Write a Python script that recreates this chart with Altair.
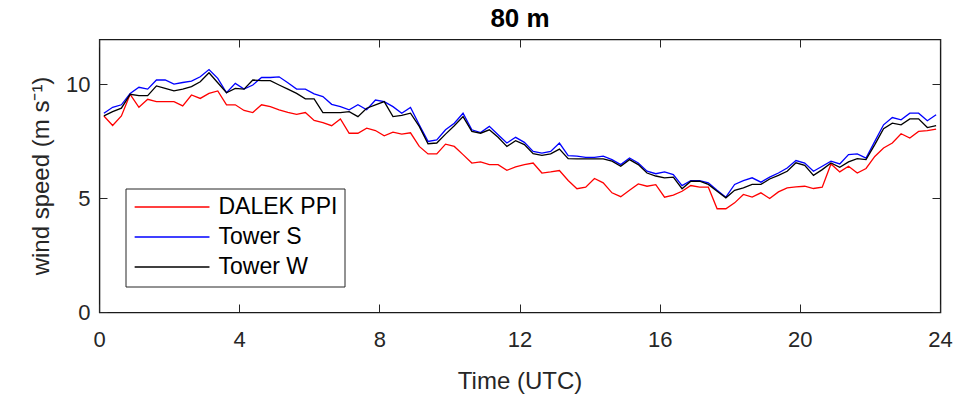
import altair as alt
import pandas as pd

# sample times (hours UTC), 15-min averages
times = [round(0.125 + 0.25 * i, 3) for i in range(96)]

dalek_ppi = [8.64, 8.22, 8.64, 9.59, 9.02, 9.37, 9.27, 9.27, 9.27, 9.08, 9.56, 9.41,
             9.63, 9.74, 9.13, 9.13, 8.88, 8.79, 9.13, 9.05, 8.91, 8.80, 8.71, 8.79,
             8.44, 8.35, 8.21, 8.51, 7.88, 7.88, 8.10, 8.00, 7.77, 7.93, 7.84, 7.90,
             7.30, 6.97, 6.97, 7.40, 7.30, 6.94, 6.57, 6.62, 6.50, 6.50, 6.25, 6.40,
             6.50, 6.57, 6.13, 6.18, 6.24, 5.80, 5.44, 5.51, 5.89, 5.70, 5.26, 5.09,
             5.37, 5.65, 5.55, 5.62, 5.07, 5.16, 5.33, 5.58, 5.51, 5.51, 4.56, 4.56,
             4.82, 5.19, 5.07, 5.26, 5.01, 5.30, 5.48, 5.52, 5.55, 5.45, 5.51, 6.53,
             6.18, 6.43, 6.13, 6.33, 6.86, 7.23, 7.45, 7.86, 7.67, 7.96, 7.99, 8.06]

tower_s = [8.76, 9.02, 9.13, 9.63, 9.90, 9.82, 10.22, 10.22, 10.04, 10.11, 10.17, 10.36,
           10.68, 10.29, 9.66, 10.07, 9.82, 10.00, 10.33, 10.33, 10.36, 10.10, 9.82, 9.82,
           9.61, 9.49, 9.15, 9.05, 8.91, 9.13, 8.91, 9.34, 9.27, 9.05, 8.76, 9.01,
           8.25, 7.52, 7.59, 8.03, 8.32, 8.76, 8.03, 7.91, 8.18, 7.81, 7.45, 7.70,
           7.48, 7.08, 7.01, 7.08, 7.45, 6.90, 6.87, 6.82, 6.82, 6.87, 6.72, 6.50,
           6.79, 6.57, 6.21, 6.10, 6.18, 6.06, 5.58, 5.80, 5.80, 5.70, 5.37, 5.07,
           5.63, 5.80, 5.92, 5.73, 5.95, 6.13, 6.35, 6.68, 6.57, 6.21, 6.43, 6.65,
           6.53, 6.94, 6.97, 6.79, 7.52, 8.25, 8.57, 8.47, 8.76, 8.76, 8.43, 8.69]

tower_w = [8.64, 8.83, 8.98, 9.59, 9.53, 9.53, 9.96, 9.85, 9.74, 9.82, 9.93, 10.14,
           10.54, 10.10, 9.66, 9.85, 9.82, 10.22, 10.19, 10.19, 10.00, 9.82, 9.63, 9.39,
           9.39, 8.79, 8.79, 8.79, 8.83, 8.61, 8.98, 9.13, 9.27, 8.61, 8.66, 8.76,
           8.18, 7.42, 7.45, 7.84, 8.21, 8.61, 7.96, 7.88, 8.03, 7.70, 7.30, 7.55,
           7.38, 6.98, 6.91, 6.97, 7.18, 6.76, 6.75, 6.75, 6.75, 6.75, 6.65, 6.43,
           6.72, 6.50, 6.13, 6.00, 5.92, 5.95, 5.44, 5.77, 5.77, 5.63, 5.33, 5.04,
           5.37, 5.48, 5.63, 5.63, 5.87, 6.03, 6.21, 6.58, 6.47, 6.03, 6.28, 6.57,
           6.38, 6.62, 6.76, 6.72, 7.38, 8.08, 8.32, 8.25, 8.51, 8.51, 8.13, 8.21]

series_names = ["DALEK PPI", "Tower S", "Tower W"]
series_colors = ["#ff0000", "#0000ff", "#000000"]
x_ticks = [0, 4, 8, 12, 16, 20, 24]
y_ticks = [0, 5, 10]

rows = []
for name, vals in zip(series_names, [dalek_ppi, tower_s, tower_w]):
    for t, v in zip(times, vals):
        rows.append({"time": t, "speed": v, "series": name})
df = pd.DataFrame(rows)

FONT = "Liberation Sans"
AX = "#262626"

xscale = alt.Scale(domain=[0, 24], nice=False, zero=False)
yscale = alt.Scale(domain=[0, 12], nice=False, zero=False)

base = alt.Chart(df)

lines = base.mark_line(strokeWidth=1.3).encode(
    x=alt.X("time:Q", scale=xscale,
            axis=alt.Axis(orient="bottom", values=x_ticks, title="Time (UTC)",
                          offset=-8, tickSize=8, domain=False, grid=False, translate=0,
                          labelFlush=False, labelPadding=17, labelFontSize=22,
                          labelFont=FONT, labelColor=AX, tickColor=AX, tickWidth=1,
                          titleFont=FONT, titleFontSize=24, titleFontWeight="normal",
                          titleColor=AX, titlePadding=19)),
    y=alt.Y("speed:Q", scale=yscale,
            axis=alt.Axis(orient="left", values=y_ticks, title="wind speed (m s⁻¹)",
                          offset=-8, tickSize=8, domain=False, grid=False, translate=0,
                          labelPadding=9, labelFontSize=22, labelFont=FONT,
                          labelColor=AX, tickColor=AX, tickWidth=1,
                          titleFont=FONT, titleFontSize=24, titleFontWeight="normal",
                          titleColor=AX, titlePadding=12)),
    color=alt.Color("series:N",
                    scale=alt.Scale(domain=series_names, range=series_colors),
                    legend=alt.Legend(orient="none", legendX=26, legendY=149,
                                      title=None, symbolType="M-1,0H7",
                                      symbolSize=350, symbolStrokeWidth=1.3,
                                      labelFont=FONT, labelFontSize=23,
                                      labelColor="#000000", labelOffset=63,
                                      padding=7, rowPadding=6,
                                      strokeColor=AX, fillColor="white")),
)

mirror = base.mark_line(opacity=0).encode(
    x=alt.X("time:Q", scale=xscale,
            axis=alt.Axis(orient="top", values=x_ticks, labels=False, title="",
                          offset=-8, tickSize=8, domain=False, grid=False, translate=0,
                          tickColor=AX, tickWidth=1)),
    y=alt.Y("speed:Q", scale=yscale,
            axis=alt.Axis(orient="right", values=y_ticks, labels=False, title="",
                          offset=-8, tickSize=8, domain=False, grid=False, translate=0,
                          tickColor=AX, tickWidth=1)),
    detail="series:N",
)

chart = alt.layer(lines, mirror).resolve_axis(
    x="independent", y="independent"
).properties(
    width=841, height=273,
    view=alt.ViewBackground(stroke="#1a1a1a", strokeWidth=1.4),
    title=alt.TitleParams("80 m", font=FONT, fontSize=26, fontWeight="bold",
                          color="#000000", anchor="middle", baseline="alphabetic",
                          offset=11, dy=25),
    autosize=alt.AutoSizeParams(type="none"),
    padding={"left": 99.5, "top": 39.5, "right": 17.5, "bottom": 84.5},
).configure_view(stroke="#1a1a1a", strokeWidth=1.4).configure(background="white")

chart.save("out.html", embed_options={"renderer": "svg", "actions": False})
